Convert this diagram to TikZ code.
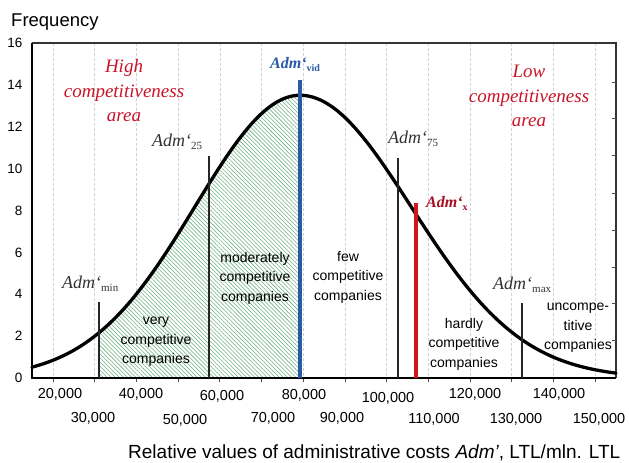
\documentclass[tikz,border=0pt]{standalone}
\usepackage{fontspec}
\setmainfont{Liberation Serif}
\setsansfont{Liberation Sans}
\usetikzlibrary{patterns.meta}
\definecolor{redtxt}{RGB}{200,20,40}
\definecolor{darkred}{RGB}{165,15,35}
\definecolor{redline}{RGB}{210,20,30}
\definecolor{blueline}{RGB}{40,90,165}
\definecolor{hatchgreen}{RGB}{105,175,125}
\definecolor{admgray}{RGB}{50,50,50}
\newcommand\subtxt[2]{\raisebox{-3pt}{\fontsize{#1}{#1}\selectfont #2}}
\begin{document}
\begin{tikzpicture}[x=1pt,y=-1pt,
  declare function={fl(\t)=378-20.94*13.5*exp(-((\t-300)/100)*((\t-300)/100)/2.205);
                    fr(\t)=378-20.94*13.5*exp(-((\t-300)/100)*((\t-300)/100)/2.4642);},
  gridline/.style={draw=gray!35,line width=0.6pt,dash pattern=on 3pt off 2pt},
  frame/.style={draw=black!80,line width=1.2pt},
  curve/.style={draw=black,line width=3.3pt,line join=round,line cap=round},
  marker/.style={draw=black!85,line width=2pt},
  ticklab/.style={font=\sffamily\fontsize{13.5}{14}\selectfont,anchor=east},
  xlab/.style={font=\sffamily\fontsize{14.5}{15}\selectfont,anchor=base},
  regionlab/.style={font=\sffamily\fontsize{14}{19.5}\selectfont,align=center},
  arealab/.style={font=\itshape\fontsize{19}{24.5}\selectfont,text=redtxt,align=center},
  admlab/.style={font=\fontsize{18}{18}\selectfont,text=admgray,anchor=base west,inner sep=0pt}]
\useasboundingbox (0,0) rectangle (629,463);
% grid
\foreach \i in {0,...,13} {
  \draw[gridline] ({53+41.7*\i},43) -- ({53+41.7*\i},378);
  \draw[black!70,line width=0.8pt] ({53+41.7*\i},378) -- ({53+41.7*\i},382);
}
% hatched area
\fill[white] (99,378) -- plot[domain=99:298,samples=60,smooth] (\x,{fl(\x)}) -- (298,378) -- cycle;
\fill[pattern={Lines[angle=-45,distance=2.9pt,line width=0.55pt]},pattern color=hatchgreen]
  (99,378) -- plot[domain=99:298,samples=60,smooth] (\x,{fl(\x)}) -- (298,378) -- cycle;
% frame
\draw[frame] (32,43) -- (616,43) -- (616,378);
\draw[draw=black,line width=1.4pt] (32,43) -- (32,378) -- (616,378);
\foreach \yy in {82,118,155,193,230,267,303,340} \draw[black!70,line width=0.8pt] (616,\yy) -- (612,\yy);
% curve
\draw[curve] plot[domain=32:300,samples=80,smooth] (\x,{fl(\x)}) -- plot[domain=300:616,samples=80,smooth] (\x,{fr(\x)});
% marker lines
\coordinate (minT) at (99,302); \coordinate (minB) at (99,378);
\coordinate (q25T) at (209,156); \coordinate (q25B) at (209,378);
\coordinate (vidT) at (300,80); \coordinate (vidB) at (300,378);
\coordinate (q75T) at (398,158); \coordinate (q75B) at (398,378);
\coordinate (xT) at (416,203); \coordinate (xB) at (416,378);
\coordinate (maxT) at (522,303); \coordinate (maxB) at (522,378);
\draw[marker] (minT) -- (minB);
\draw[marker] (q25T) -- (q25B);
\draw[draw=blueline,line width=4pt] (vidT) -- (vidB);
\draw[marker] (q75T) -- (q75B);
\draw[draw=redline,line width=3.6pt] (xT) -- (xB);
\draw[marker] (maxT) -- (maxB);
% y tick labels
\foreach \v in {0,2,...,16} \node[ticklab] (yl\v) at (26,{378-20.94*\v}) {\v};
\node[font=\sffamily\fontsize{18.5}{19}\selectfont,anchor=base west,inner sep=0pt] (freq) at (11,27) {Frequency};
% x tick labels
\node[xlab] (x20) at (60,398) {20,000};
\node[xlab] (x40) at (141,398) {40,000};
\node[xlab] (x60) at (222,400) {60,000};
\node[xlab] (x80) at (304,399) {80,000};
\node[xlab] (x100) at (388,402) {100,000};
\node[xlab] (x120) at (475,398) {120,000};
\node[xlab] (x140) at (559,398) {140,000};
\node[xlab] (x30) at (93,422) {30,000};
\node[xlab] (x50) at (185,424) {50,000};
\node[xlab] (x70) at (273,422) {70,000};
\node[xlab] (x90) at (342,422) {90,000};
\node[xlab] (x110) at (434,423) {110,000};
\node[xlab] (x130) at (516,423) {130,000};
\node[xlab] (x150) at (599,423) {150,000};
\node[font=\sffamily\fontsize{19}{20}\selectfont,anchor=base west,inner sep=0pt] (xtitle) at (128,458)
  {Relative values of administrative costs \textit{Adm'}, LTL/mln. LTL};
% area labels
\node[arealab] (high) at (124,91) {High\\competitiveness\\area};
\node[arealab] (low) at (529,96) {Low\\competitiveness\\area};
% region labels
\node[regionlab] (very) at (156,342) {very\\competitive\\companies};
\node[regionlab] (mod) at (255,278) {moderately\\competitive\\companies};
\node[regionlab] (few) at (348,277) {few\\competitive\\companies};
\node[regionlab] (hard) at (464,344) {hardly\\competitive\\companies};
\node[regionlab] (unc) at (578,328) {uncompe-\\titive\\companies};
% Adm labels
\node[admlab] (lmin) at (62,288) {\textit{Adm‘}\subtxt{11}{min}};
\node[admlab] (l25) at (152,146) {\textit{Adm‘}\subtxt{11}{25}};
\node[admlab] (l75) at (388,143) {\textit{Adm‘}\subtxt{11}{75}};
\node[admlab] (lmax) at (493,289) {\textit{Adm‘}\subtxt{11}{max}};
\node[admlab,font=\bfseries\fontsize{16}{16}\selectfont,text=blueline] (lvid) at (270,68) {\textit{Adm‘}\subtxt{10}{vid}};
\node[admlab,font=\bfseries\fontsize{16}{16}\selectfont,text=darkred] (lx) at (426,207) {\textit{Adm‘}\subtxt{10}{x}};
\end{tikzpicture}
\end{document}
